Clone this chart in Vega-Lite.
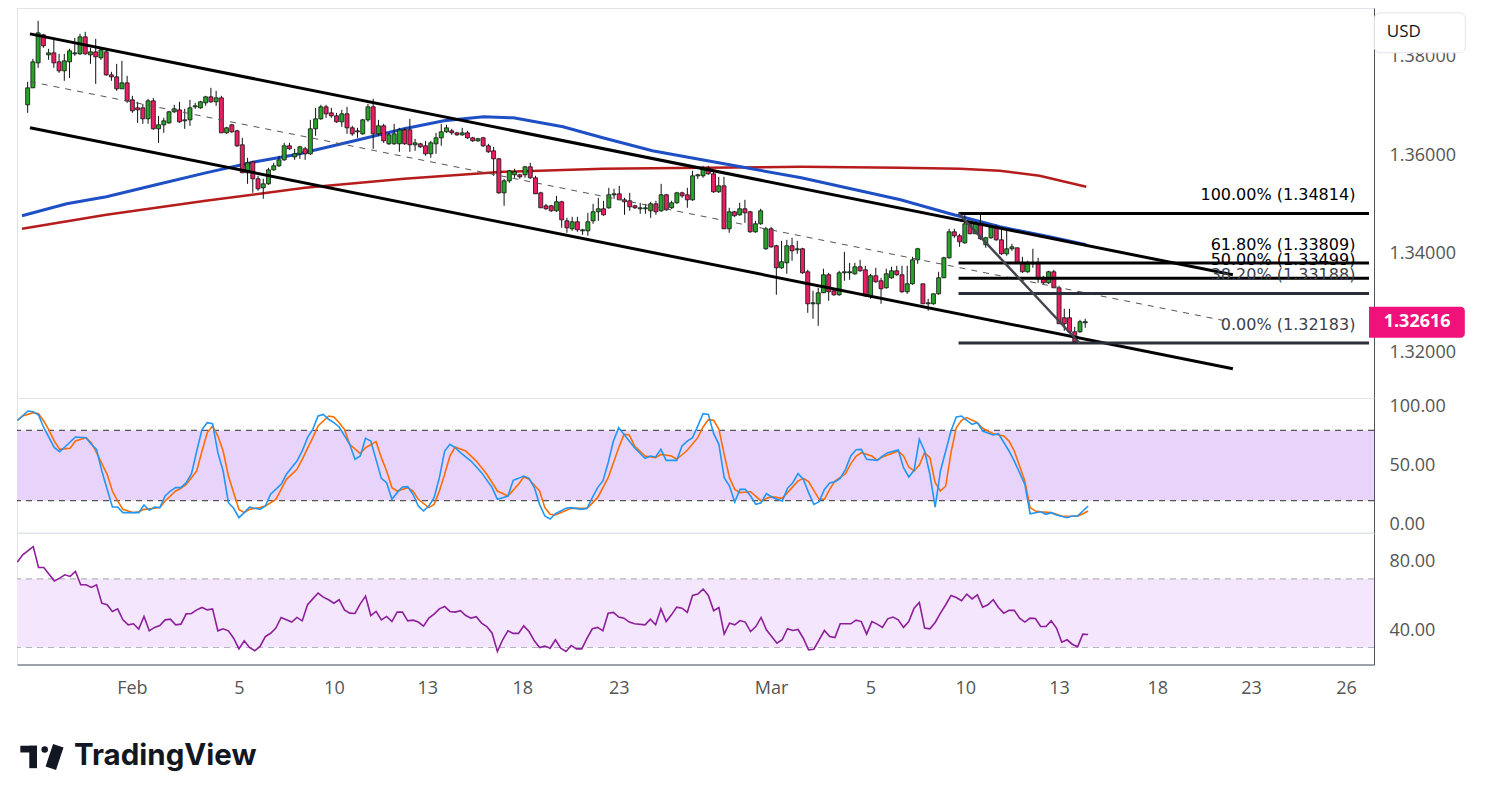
{
"$schema": "https://vega.github.io/schema/vega-lite/v6.json",
"padding": {"left": 15, "top": 7, "right": 0, "bottom": 0},
"spacing": 0,
"bounds": "flush",
"background": "white",
"config": {
  "view": {"stroke": "#e0e3eb", "strokeWidth": 1},
  "axis": {"labelFont": "Open Sans", "labelFontSize": 18, "labelColor": "#555555", "ticks": false, "grid": false, "domainColor": "#50535e", "domainWidth": 1},
  "concat": {"spacing": 0}
},
"datasets": {
"candles": [
{"n":1,"o":1.37019,"h":1.37486,"l":1.36856,"c":1.37364},
{"n":2,"o":1.37364,"h":1.37953,"l":1.37364,"c":1.37892},
{"n":3,"o":1.37871,"h":1.38724,"l":1.3777,"c":1.3848},
{"n":4,"o":1.3844,"h":1.3846,"l":1.38176,"c":1.38217},
{"n":5,"o":1.38034,"h":1.38156,"l":1.37932,"c":1.38074},
{"n":6,"o":1.38074,"h":1.38359,"l":1.3777,"c":1.37871},
{"n":7,"o":1.37892,"h":1.38054,"l":1.37668,"c":1.37709},
{"n":8,"o":1.37709,"h":1.38054,"l":1.37506,"c":1.37912},
{"n":9,"o":1.37892,"h":1.38156,"l":1.37567,"c":1.38115},
{"n":10,"o":1.38054,"h":1.38379,"l":1.38014,"c":1.38074},
{"n":11,"o":1.38054,"h":1.3846,"l":1.38034,"c":1.38399},
{"n":12,"o":1.38399,"h":1.38501,"l":1.38034,"c":1.38054},
{"n":13,"o":1.38034,"h":1.38176,"l":1.37851,"c":1.38095},
{"n":14,"o":1.38095,"h":1.38359,"l":1.37445,"c":1.37993},
{"n":15,"o":1.37973,"h":1.38176,"l":1.37932,"c":1.38135},
{"n":16,"o":1.38095,"h":1.38156,"l":1.37608,"c":1.37628},
{"n":17,"o":1.37628,"h":1.37689,"l":1.37506,"c":1.37587},
{"n":18,"o":1.37587,"h":1.37851,"l":1.37303,"c":1.37344},
{"n":19,"o":1.37344,"h":1.37912,"l":1.37344,"c":1.37465},
{"n":20,"o":1.37465,"h":1.37608,"l":1.37059,"c":1.371},
{"n":21,"o":1.3712,"h":1.37202,"l":1.36856,"c":1.36897},
{"n":22,"o":1.36958,"h":1.3708,"l":1.36653,"c":1.36917},
{"n":23,"o":1.36958,"h":1.37039,"l":1.36633,"c":1.36735},
{"n":24,"o":1.36735,"h":1.37141,"l":1.36633,"c":1.371},
{"n":25,"o":1.371,"h":1.37161,"l":1.36511,"c":1.36532},
{"n":26,"o":1.36532,"h":1.36796,"l":1.36247,"c":1.36613},
{"n":27,"o":1.36613,"h":1.36755,"l":1.3645,"c":1.36694},
{"n":28,"o":1.36653,"h":1.36897,"l":1.36633,"c":1.36877},
{"n":29,"o":1.36877,"h":1.37019,"l":1.36856,"c":1.36938},
{"n":30,"o":1.36917,"h":1.3708,"l":1.36653,"c":1.36674},
{"n":31,"o":1.36694,"h":1.36938,"l":1.36532,"c":1.36714},
{"n":32,"o":1.36714,"h":1.3712,"l":1.36593,"c":1.36958},
{"n":33,"o":1.36978,"h":1.37059,"l":1.36938,"c":1.36999},
{"n":34,"o":1.36958,"h":1.371,"l":1.36938,"c":1.3708},
{"n":35,"o":1.37059,"h":1.37202,"l":1.36999,"c":1.37181},
{"n":36,"o":1.37181,"h":1.37364,"l":1.37059,"c":1.3708},
{"n":37,"o":1.3708,"h":1.37303,"l":1.36999,"c":1.37161},
{"n":38,"o":1.37161,"h":1.37202,"l":1.3645,"c":1.3645},
{"n":39,"o":1.3645,"h":1.36572,"l":1.3643,"c":1.36552},
{"n":40,"o":1.36613,"h":1.36633,"l":1.3645,"c":1.36471},
{"n":41,"o":1.36491,"h":1.36511,"l":1.36166,"c":1.36187},
{"n":42,"o":1.36207,"h":1.36349,"l":1.35638,"c":1.35638},
{"n":43,"o":1.35638,"h":1.35943,"l":1.35415,"c":1.35841},
{"n":44,"o":1.35862,"h":1.35882,"l":1.35232,"c":1.35517},
{"n":45,"o":1.35517,"h":1.35577,"l":1.35273,"c":1.35314},
{"n":46,"o":1.35334,"h":1.35517,"l":1.35111,"c":1.35415},
{"n":47,"o":1.35415,"h":1.3574,"l":1.35395,"c":1.35699},
{"n":48,"o":1.35699,"h":1.35841,"l":1.35679,"c":1.3578},
{"n":49,"o":1.3578,"h":1.35984,"l":1.3576,"c":1.35902},
{"n":50,"o":1.35902,"h":1.36247,"l":1.35882,"c":1.36187},
{"n":51,"o":1.36187,"h":1.36247,"l":1.36105,"c":1.36126},
{"n":52,"o":1.35963,"h":1.36126,"l":1.35902,"c":1.36024},
{"n":53,"o":1.36024,"h":1.36187,"l":1.35923,"c":1.36166},
{"n":54,"o":1.36126,"h":1.36166,"l":1.35902,"c":1.36024},
{"n":55,"o":1.36024,"h":1.36714,"l":1.36004,"c":1.36532},
{"n":56,"o":1.36532,"h":1.36958,"l":1.3639,"c":1.36735},
{"n":57,"o":1.36735,"h":1.37019,"l":1.36714,"c":1.36978},
{"n":58,"o":1.36978,"h":1.37019,"l":1.36755,"c":1.36836},
{"n":59,"o":1.36856,"h":1.36958,"l":1.36755,"c":1.36796},
{"n":60,"o":1.36796,"h":1.36856,"l":1.36653,"c":1.36674},
{"n":61,"o":1.36674,"h":1.36917,"l":1.36572,"c":1.36836},
{"n":62,"o":1.36836,"h":1.36978,"l":1.3643,"c":1.36552},
{"n":63,"o":1.36552,"h":1.36593,"l":1.3639,"c":1.3643},
{"n":64,"o":1.36471,"h":1.36552,"l":1.36349,"c":1.36491},
{"n":65,"o":1.3643,"h":1.36735,"l":1.3641,"c":1.36714},
{"n":66,"o":1.36714,"h":1.37039,"l":1.36674,"c":1.36978},
{"n":67,"o":1.36978,"h":1.37141,"l":1.36126,"c":1.3643},
{"n":68,"o":1.3643,"h":1.36714,"l":1.3639,"c":1.36593},
{"n":69,"o":1.36593,"h":1.36633,"l":1.36247,"c":1.36288},
{"n":70,"o":1.36227,"h":1.3645,"l":1.36207,"c":1.3641},
{"n":71,"o":1.36227,"h":1.36633,"l":1.36207,"c":1.3643},
{"n":72,"o":1.36227,"h":1.36552,"l":1.36065,"c":1.36511},
{"n":73,"o":1.36511,"h":1.36552,"l":1.36207,"c":1.36227},
{"n":74,"o":1.36511,"h":1.36735,"l":1.36065,"c":1.36207},
{"n":75,"o":1.36207,"h":1.36329,"l":1.36085,"c":1.36247},
{"n":76,"o":1.36227,"h":1.36247,"l":1.36146,"c":1.36166},
{"n":77,"o":1.36187,"h":1.36288,"l":1.35984,"c":1.36024},
{"n":78,"o":1.36024,"h":1.36288,"l":1.35943,"c":1.36247},
{"n":79,"o":1.36227,"h":1.3645,"l":1.36024,"c":1.36349},
{"n":80,"o":1.36349,"h":1.36633,"l":1.36187,"c":1.36471},
{"n":81,"o":1.36471,"h":1.36613,"l":1.3645,"c":1.36552},
{"n":82,"o":1.36491,"h":1.36532,"l":1.3641,"c":1.3645},
{"n":83,"o":1.3645,"h":1.36471,"l":1.3639,"c":1.3641},
{"n":84,"o":1.3641,"h":1.36552,"l":1.3639,"c":1.3645},
{"n":85,"o":1.3645,"h":1.36491,"l":1.36329,"c":1.36349},
{"n":86,"o":1.36349,"h":1.36369,"l":1.36268,"c":1.36288},
{"n":87,"o":1.36288,"h":1.36349,"l":1.36268,"c":1.36329},
{"n":88,"o":1.36349,"h":1.36369,"l":1.36166,"c":1.36187},
{"n":89,"o":1.36187,"h":1.36227,"l":1.36044,"c":1.36065},
{"n":90,"o":1.36085,"h":1.36166,"l":1.35577,"c":1.35923},
{"n":91,"o":1.35923,"h":1.35943,"l":1.35212,"c":1.35232},
{"n":92,"o":1.35232,"h":1.35517,"l":1.34969,"c":1.35476},
{"n":93,"o":1.35476,"h":1.35699,"l":1.35435,"c":1.35679},
{"n":94,"o":1.35598,"h":1.3572,"l":1.35537,"c":1.35659},
{"n":95,"o":1.35598,"h":1.35618,"l":1.35517,"c":1.35557},
{"n":96,"o":1.35598,"h":1.3578,"l":1.35537,"c":1.3576},
{"n":97,"o":1.3576,"h":1.35841,"l":1.35517,"c":1.35537},
{"n":98,"o":1.35537,"h":1.35577,"l":1.35212,"c":1.35212},
{"n":99,"o":1.35232,"h":1.35253,"l":1.34928,"c":1.34928},
{"n":100,"o":1.34969,"h":1.35009,"l":1.34887,"c":1.34908},
{"n":101,"o":1.34969,"h":1.34989,"l":1.34847,"c":1.34867},
{"n":102,"o":1.34867,"h":1.35172,"l":1.34847,"c":1.3505},
{"n":103,"o":1.3505,"h":1.3507,"l":1.34522,"c":1.34684},
{"n":104,"o":1.34664,"h":1.34725,"l":1.3442,"c":1.34522},
{"n":105,"o":1.34502,"h":1.34745,"l":1.34461,"c":1.34644},
{"n":106,"o":1.34644,"h":1.34745,"l":1.34441,"c":1.34481},
{"n":107,"o":1.34461,"h":1.34502,"l":1.3438,"c":1.34481},
{"n":108,"o":1.34461,"h":1.34826,"l":1.3436,"c":1.34644},
{"n":109,"o":1.34664,"h":1.35009,"l":1.34603,"c":1.34847},
{"n":110,"o":1.34847,"h":1.35131,"l":1.34664,"c":1.34908},
{"n":111,"o":1.34908,"h":1.3507,"l":1.34766,"c":1.34786},
{"n":112,"o":1.34928,"h":1.35334,"l":1.34908,"c":1.35192},
{"n":113,"o":1.35192,"h":1.35314,"l":1.35111,"c":1.35212},
{"n":114,"o":1.35212,"h":1.35374,"l":1.3509,"c":1.3509},
{"n":115,"o":1.3509,"h":1.35131,"l":1.34786,"c":1.3505},
{"n":116,"o":1.3507,"h":1.35232,"l":1.34867,"c":1.34948},
{"n":117,"o":1.34969,"h":1.34989,"l":1.34908,"c":1.34928},
{"n":118,"o":1.34908,"h":1.35029,"l":1.34806,"c":1.34928},
{"n":119,"o":1.34908,"h":1.35009,"l":1.34806,"c":1.34928},
{"n":120,"o":1.34867,"h":1.3505,"l":1.34725,"c":1.35009},
{"n":121,"o":1.35009,"h":1.3507,"l":1.34786,"c":1.34847},
{"n":122,"o":1.34867,"h":1.35415,"l":1.34847,"c":1.35192},
{"n":123,"o":1.35192,"h":1.35212,"l":1.34867,"c":1.34887},
{"n":124,"o":1.34928,"h":1.3507,"l":1.34908,"c":1.35029},
{"n":125,"o":1.35029,"h":1.35253,"l":1.35009,"c":1.35232},
{"n":126,"o":1.35232,"h":1.35253,"l":1.35131,"c":1.35172},
{"n":127,"o":1.35192,"h":1.35334,"l":1.34928,"c":1.3509},
{"n":128,"o":1.3509,"h":1.35679,"l":1.3507,"c":1.35577},
{"n":129,"o":1.35577,"h":1.35618,"l":1.35517,"c":1.35598},
{"n":130,"o":1.35577,"h":1.3578,"l":1.35537,"c":1.3574},
{"n":131,"o":1.3574,"h":1.3578,"l":1.35598,"c":1.35618},
{"n":132,"o":1.35618,"h":1.35679,"l":1.35232,"c":1.35253},
{"n":133,"o":1.35253,"h":1.35557,"l":1.35232,"c":1.35374},
{"n":134,"o":1.35374,"h":1.35557,"l":1.34502,"c":1.34502},
{"n":135,"o":1.34502,"h":1.34928,"l":1.3442,"c":1.34847},
{"n":136,"o":1.34847,"h":1.34867,"l":1.34745,"c":1.34766},
{"n":137,"o":1.34786,"h":1.35029,"l":1.34766,"c":1.34908},
{"n":138,"o":1.34908,"h":1.3509,"l":1.34623,"c":1.34826},
{"n":139,"o":1.34847,"h":1.34867,"l":1.3442,"c":1.34441},
{"n":140,"o":1.34441,"h":1.34664,"l":1.3442,"c":1.34603},
{"n":141,"o":1.34603,"h":1.34908,"l":1.34583,"c":1.34867},
{"n":142,"o":1.34096,"h":1.34542,"l":1.34075,"c":1.34502},
{"n":143,"o":1.34502,"h":1.34542,"l":1.34116,"c":1.34136},
{"n":144,"o":1.34157,"h":1.34177,"l":1.33162,"c":1.3371},
{"n":145,"o":1.3371,"h":1.34258,"l":1.3369,"c":1.33832},
{"n":146,"o":1.33811,"h":1.34278,"l":1.33588,"c":1.34157},
{"n":147,"o":1.34157,"h":1.34319,"l":1.33852,"c":1.34055},
{"n":148,"o":1.34075,"h":1.34258,"l":1.33994,"c":1.34096},
{"n":149,"o":1.34096,"h":1.34116,"l":1.33588,"c":1.33608},
{"n":150,"o":1.33629,"h":1.33669,"l":1.32796,"c":1.32979},
{"n":151,"o":1.32979,"h":1.33243,"l":1.32675,"c":1.32999},
{"n":152,"o":1.32979,"h":1.33304,"l":1.32533,"c":1.33202},
{"n":153,"o":1.33202,"h":1.3369,"l":1.33202,"c":1.33568},
{"n":154,"o":1.33568,"h":1.33608,"l":1.3304,"c":1.33223},
{"n":155,"o":1.33243,"h":1.33284,"l":1.33142,"c":1.33162},
{"n":156,"o":1.33162,"h":1.33649,"l":1.33142,"c":1.33608},
{"n":157,"o":1.33608,"h":1.34035,"l":1.33446,"c":1.33629},
{"n":158,"o":1.33608,"h":1.33811,"l":1.33466,"c":1.33629},
{"n":159,"o":1.33588,"h":1.33811,"l":1.33568,"c":1.3373},
{"n":160,"o":1.3373,"h":1.33872,"l":1.33629,"c":1.33649},
{"n":161,"o":1.33669,"h":1.33751,"l":1.33121,"c":1.33142},
{"n":162,"o":1.33142,"h":1.33588,"l":1.33081,"c":1.33548},
{"n":163,"o":1.33548,"h":1.3371,"l":1.33405,"c":1.33426},
{"n":164,"o":1.33446,"h":1.33507,"l":1.32979,"c":1.33284},
{"n":165,"o":1.33304,"h":1.3369,"l":1.33284,"c":1.33588},
{"n":166,"o":1.33507,"h":1.3373,"l":1.33487,"c":1.33649},
{"n":167,"o":1.33649,"h":1.33751,"l":1.33548,"c":1.33568},
{"n":168,"o":1.33568,"h":1.33751,"l":1.33202,"c":1.33223},
{"n":169,"o":1.33223,"h":1.33751,"l":1.33182,"c":1.33385},
{"n":170,"o":1.33385,"h":1.33933,"l":1.33365,"c":1.33872},
{"n":171,"o":1.33872,"h":1.34116,"l":1.33791,"c":1.34096},
{"n":172,"o":1.33385,"h":1.33385,"l":1.32979,"c":1.32979},
{"n":173,"o":1.32979,"h":1.33081,"l":1.32837,"c":1.32999},
{"n":174,"o":1.32979,"h":1.33182,"l":1.32959,"c":1.33182},
{"n":175,"o":1.33182,"h":1.33629,"l":1.33162,"c":1.33507},
{"n":176,"o":1.33507,"h":1.33933,"l":1.33507,"c":1.33913},
{"n":177,"o":1.33913,"h":1.34502,"l":1.33893,"c":1.34441},
{"n":178,"o":1.34441,"h":1.34502,"l":1.34319,"c":1.3436},
{"n":179,"o":1.3436,"h":1.344,"l":1.34136,"c":1.34238},
{"n":180,"o":1.34217,"h":1.34814,"l":1.34197,"c":1.34603},
{"n":181,"o":1.34603,"h":1.34664,"l":1.344,"c":1.344},
{"n":182,"o":1.344,"h":1.34644,"l":1.344,"c":1.34603},
{"n":183,"o":1.34603,"h":1.34786,"l":1.34278,"c":1.34299},
{"n":184,"o":1.34177,"h":1.34339,"l":1.34116,"c":1.34319},
{"n":185,"o":1.34319,"h":1.34583,"l":1.34299,"c":1.34542},
{"n":186,"o":1.34542,"h":1.34583,"l":1.34258,"c":1.34278},
{"n":187,"o":1.34278,"h":1.34502,"l":1.33974,"c":1.33994},
{"n":188,"o":1.33994,"h":1.34481,"l":1.33954,"c":1.34096},
{"n":189,"o":1.34096,"h":1.34197,"l":1.34055,"c":1.34136},
{"n":190,"o":1.34116,"h":1.34116,"l":1.33791,"c":1.33811},
{"n":191,"o":1.33811,"h":1.33933,"l":1.33608,"c":1.33629},
{"n":192,"o":1.33629,"h":1.33852,"l":1.33608,"c":1.33791},
{"n":193,"o":1.33791,"h":1.34096,"l":1.3371,"c":1.33811},
{"n":194,"o":1.33791,"h":1.33913,"l":1.33405,"c":1.33487},
{"n":195,"o":1.33487,"h":1.33548,"l":1.33385,"c":1.33405},
{"n":196,"o":1.33405,"h":1.33649,"l":1.33385,"c":1.33629},
{"n":197,"o":1.33629,"h":1.33669,"l":1.33304,"c":1.33304},
{"n":198,"o":1.33304,"h":1.33345,"l":1.32573,"c":1.32573},
{"n":199,"o":1.32695,"h":1.32878,"l":1.32431,"c":1.32573},
{"n":200,"o":1.32695,"h":1.32878,"l":1.3239,"c":1.32411},
{"n":201,"o":1.32411,"h":1.32512,"l":1.32183,"c":1.32208},
{"n":202,"o":1.32411,"h":1.32654,"l":1.3239,"c":1.32614},
{"n":203,"o":1.32593,"h":1.32675,"l":1.32492,"c":1.32616}
],
"ma50": [
{"n":-0.08,"p":1.34766},{"n":8.45,"p":1.35009},{"n":16.04,"p":1.35151},{"n":25.52,"p":1.35395},{"n":35.0,"p":1.35638},{"n":44.48,"p":1.35862},{"n":52.06,"p":1.36004},{"n":63.44,"p":1.36288},{"n":72.92,"p":1.36532},{"n":80.5,"p":1.36694},{"n":88.09,"p":1.36775},{"n":93.77,"p":1.36755},{"n":103.25,"p":1.36572},{"n":110.84,"p":1.36349},{"n":120.32,"p":1.36085},{"n":129.8,"p":1.35902},{"n":139.28,"p":1.3572},{"n":148.76,"p":1.35537},{"n":158.24,"p":1.35314},{"n":167.72,"p":1.3509},{"n":177.2,"p":1.34806},{"n":186.69,"p":1.34542},{"n":196.17,"p":1.34339},{"n":203.19,"p":1.34177}
],
"ma200": [
{"n":-0.08,"p":1.34502},{"n":16.04,"p":1.34786},{"n":35.0,"p":1.3507},{"n":53.96,"p":1.35334},{"n":72.92,"p":1.35517},{"n":91.88,"p":1.35659},{"n":110.84,"p":1.3572},{"n":129.8,"p":1.3574},{"n":148.76,"p":1.3576},{"n":167.72,"p":1.3574},{"n":179.1,"p":1.3572},{"n":186.69,"p":1.35679},{"n":194.27,"p":1.35577},{"n":203.19,"p":1.35354}
],
"channel": [
{"line":"upper","n":1.44,"p":1.3846},{"line":"upper","n":231.2,"p":1.33568},
{"line":"lower","n":1.44,"p":1.36552},{"line":"lower","n":231.2,"p":1.3166}
],
"mid": [{"n":1.44,"p":1.3749},{"n":229.7,"p":1.32634}],
"diag": [{"n":178.8,"p":1.34814},{"n":201.9,"p":1.32183}],
"fib": [
{"label":"100.00% (1.34814)","p":1.34814},
{"label":"61.80% (1.33809)","p":1.33809},
{"label":"50.00% (1.33499)","p":1.33499},
{"label":"38.20% (1.33188)","p":1.33188},
{"label":"0.00% (1.32183)","p":1.32183}
],
"stochK": [
{"n":0,"v":88.6},{"n":2,"v":96.6},{"n":3,"v":96.0},{"n":4,"v":93.2},{"n":5,"v":82.3},{"n":7,"v":65.2},{"n":8,"v":61.8},{"n":9,"v":65.8},{"n":11,"v":74.4},{"n":13,"v":73.8},{"n":14,"v":68.1},{"n":15,"v":63.8},{"n":16,"v":45.3},{"n":18,"v":14.5},{"n":19,"v":14.5},{"n":20,"v":9.7},{"n":23,"v":9.7},{"n":24,"v":16.2},{"n":25,"v":11.7},{"n":26,"v":14.5},{"n":27,"v":14.0},{"n":28,"v":23.9},{"n":29,"v":28.2},{"n":30,"v":31.1},{"n":31,"v":31.1},{"n":32,"v":35.3},{"n":33,"v":43.0},{"n":34,"v":62.4},{"n":35,"v":80.9},{"n":36,"v":86.6},{"n":37,"v":85.8},{"n":38,"v":61.0},{"n":39,"v":45.3},{"n":40,"v":18.2},{"n":41,"v":13.4},{"n":42,"v":5.4},{"n":43,"v":9.7},{"n":44,"v":14.5},{"n":46,"v":12.5},{"n":47,"v":15.4},{"n":48,"v":25.4},{"n":50,"v":33.9},{"n":51,"v":42.5},{"n":53,"v":53.8},{"n":54,"v":62.4},{"n":55,"v":73.8},{"n":56,"v":80.9},{"n":57,"v":92.3},{"n":58,"v":93.7},{"n":59,"v":89.5},{"n":60,"v":86.6},{"n":61,"v":82.9},{"n":63,"v":68.1},{"n":64,"v":55.3},{"n":65,"v":58.1},{"n":66,"v":73.2},{"n":67,"v":70.9},{"n":69,"v":39.0},{"n":70,"v":35.3},{"n":71,"v":21.1},{"n":72,"v":26.8},{"n":73,"v":31.6},{"n":74,"v":31.9},{"n":75,"v":25.4},{"n":76,"v":15.4},{"n":77,"v":11.1},{"n":78,"v":15.4},{"n":79,"v":22.5},{"n":80,"v":39.6},{"n":81,"v":62.4},{"n":82,"v":68.1},{"n":83,"v":65.2},{"n":84,"v":61.0},{"n":86,"v":53.8},{"n":88,"v":43.9},{"n":90,"v":31.1},{"n":91,"v":21.1},{"n":92,"v":22.5},{"n":93,"v":23.9},{"n":94,"v":37.3},{"n":95,"v":39.0},{"n":96,"v":41.0},{"n":97,"v":39.0},{"n":98,"v":31.1},{"n":99,"v":16.8},{"n":100,"v":6.8},{"n":101,"v":4.3},{"n":102,"v":8.8},{"n":104,"v":13.4},{"n":105,"v":14.0},{"n":107,"v":12.5},{"n":108,"v":13.4},{"n":109,"v":22.5},{"n":110,"v":31.1},{"n":111,"v":36.8},{"n":112,"v":52.4},{"n":113,"v":70.9},{"n":114,"v":82.3},{"n":115,"v":76.6},{"n":117,"v":65.2},{"n":119,"v":56.1},{"n":120,"v":58.1},{"n":121,"v":57.3},{"n":122,"v":63.8},{"n":123,"v":54.4},{"n":125,"v":54.4},{"n":126,"v":66.7},{"n":127,"v":70.9},{"n":128,"v":73.8},{"n":129,"v":83.8},{"n":130,"v":94.3},{"n":131,"v":93.7},{"n":132,"v":77.2},{"n":133,"v":68.1},{"n":134,"v":39.6},{"n":135,"v":32.5},{"n":136,"v":18.8},{"n":137,"v":29.6},{"n":138,"v":29.6},{"n":139,"v":23.9},{"n":140,"v":16.8},{"n":141,"v":18.2},{"n":142,"v":25.9},{"n":143,"v":23.1},{"n":144,"v":21.1},{"n":145,"v":19.7},{"n":146,"v":30.5},{"n":147,"v":35.3},{"n":148,"v":43.0},{"n":149,"v":38.2},{"n":150,"v":26.8},{"n":151,"v":16.8},{"n":152,"v":19.1},{"n":153,"v":29.6},{"n":154,"v":35.0},{"n":155,"v":36.2},{"n":156,"v":39.0},{"n":157,"v":46.7},{"n":158,"v":58.1},{"n":159,"v":63.5},{"n":160,"v":63.8},{"n":161,"v":55.3},{"n":163,"v":54.4},{"n":164,"v":58.1},{"n":165,"v":61.0},{"n":167,"v":63.2},{"n":168,"v":48.1},{"n":169,"v":40.2},{"n":170,"v":45.9},{"n":171,"v":72.4},{"n":172,"v":62.4},{"n":173,"v":42.5},{"n":174,"v":14.5},{"n":175,"v":45.3},{"n":177,"v":79.5},{"n":178,"v":91.5},{"n":179,"v":92.3},{"n":180,"v":88.6},{"n":181,"v":85.2},{"n":182,"v":86.6},{"n":183,"v":79.5},{"n":185,"v":76.1},{"n":186,"v":77.2},{"n":188,"v":62.4},{"n":189,"v":53.8},{"n":191,"v":33.9},{"n":192,"v":8.8},{"n":194,"v":10.5},{"n":195,"v":8.3},{"n":196,"v":9.7},{"n":197,"v":7.7},{"n":199,"v":5.4},{"n":200,"v":6.8},{"n":201,"v":6.8},{"n":202,"v":11.1},{"n":203,"v":15.4}
],
"stochD": [
{"n":0,"v":88.6},{"n":1,"v":92.3},{"n":3,"v":95.2},{"n":4,"v":94.3},{"n":5,"v":88.0},{"n":6,"v":80.1},{"n":7,"v":70.9},{"n":8,"v":63.8},{"n":10,"v":64.7},{"n":11,"v":70.9},{"n":13,"v":73.8},{"n":14,"v":69.5},{"n":15,"v":61.0},{"n":17,"v":42.5},{"n":18,"v":28.2},{"n":19,"v":19.7},{"n":20,"v":12.5},{"n":22,"v":9.7},{"n":23,"v":10.5},{"n":24,"v":12.5},{"n":26,"v":13.4},{"n":27,"v":14.0},{"n":28,"v":19.7},{"n":30,"v":28.2},{"n":31,"v":30.5},{"n":32,"v":33.9},{"n":34,"v":45.3},{"n":35,"v":62.4},{"n":36,"v":78.1},{"n":37,"v":83.8},{"n":38,"v":75.2},{"n":39,"v":62.4},{"n":40,"v":41.0},{"n":42,"v":12.5},{"n":43,"v":9.7},{"n":44,"v":12.5},{"n":46,"v":14.0},{"n":47,"v":15.4},{"n":49,"v":21.1},{"n":50,"v":29.6},{"n":51,"v":38.2},{"n":53,"v":46.7},{"n":54,"v":55.3},{"n":55,"v":64.7},{"n":56,"v":73.8},{"n":57,"v":83.8},{"n":59,"v":92.3},{"n":60,"v":91.5},{"n":61,"v":86.6},{"n":62,"v":80.9},{"n":63,"v":68.1},{"n":65,"v":60.1},{"n":66,"v":65.2},{"n":68,"v":70.4},{"n":69,"v":56.7},{"n":70,"v":45.3},{"n":71,"v":31.1},{"n":72,"v":28.2},{"n":74,"v":31.1},{"n":75,"v":28.2},{"n":76,"v":21.1},{"n":78,"v":14.0},{"n":79,"v":16.8},{"n":80,"v":28.2},{"n":81,"v":42.5},{"n":82,"v":58.1},{"n":83,"v":65.8},{"n":85,"v":62.4},{"n":87,"v":53.8},{"n":89,"v":42.5},{"n":91,"v":28.2},{"n":93,"v":23.9},{"n":95,"v":33.9},{"n":96,"v":40.2},{"n":97,"v":38.2},{"n":99,"v":28.2},{"n":100,"v":14.0},{"n":101,"v":8.3},{"n":102,"v":7.7},{"n":105,"v":13.4},{"n":108,"v":13.4},{"n":110,"v":22.5},{"n":112,"v":39.6},{"n":114,"v":65.2},{"n":115,"v":76.6},{"n":116,"v":76.1},{"n":117,"v":66.7},{"n":119,"v":58.1},{"n":121,"v":56.7},{"n":122,"v":59.5},{"n":124,"v":58.1},{"n":125,"v":55.3},{"n":127,"v":63.0},{"n":129,"v":73.8},{"n":130,"v":82.9},{"n":131,"v":89.2},{"n":132,"v":88.6},{"n":133,"v":80.9},{"n":134,"v":59.5},{"n":135,"v":39.6},{"n":136,"v":29.6},{"n":137,"v":26.8},{"n":139,"v":27.6},{"n":141,"v":19.7},{"n":142,"v":21.9},{"n":143,"v":23.4},{"n":145,"v":21.9},{"n":146,"v":26.8},{"n":148,"v":36.8},{"n":149,"v":39.0},{"n":150,"v":36.2},{"n":152,"v":21.1},{"n":153,"v":21.1},{"n":154,"v":29.6},{"n":155,"v":36.8},{"n":157,"v":43.0},{"n":158,"v":51.6},{"n":159,"v":57.8},{"n":160,"v":61.0},{"n":162,"v":58.1},{"n":163,"v":54.4},{"n":164,"v":57.3},{"n":167,"v":62.4},{"n":168,"v":58.1},{"n":169,"v":48.7},{"n":170,"v":45.3},{"n":171,"v":50.4},{"n":172,"v":61.0},{"n":173,"v":56.7},{"n":174,"v":35.3},{"n":175,"v":28.2},{"n":176,"v":32.5},{"n":177,"v":61.0},{"n":178,"v":82.3},{"n":179,"v":88.6},{"n":180,"v":90.9},{"n":182,"v":86.6},{"n":183,"v":81.8},{"n":185,"v":77.2},{"n":187,"v":75.2},{"n":188,"v":70.9},{"n":189,"v":62.4},{"n":191,"v":36.8},{"n":192,"v":14.0},{"n":193,"v":11.1},{"n":194,"v":10.5},{"n":196,"v":9.7},{"n":198,"v":6.8},{"n":201,"v":6.6},{"n":202,"v":8.8},{"n":203,"v":11.1}
],
"rsi": [
{"n":0,"v":79.7},{"n":1,"v":84.0},{"n":3,"v":88.8},{"n":4,"v":76.6},{"n":5,"v":76.6},{"n":6,"v":72.7},{"n":7,"v":68.8},{"n":8,"v":70.4},{"n":9,"v":72.3},{"n":10,"v":71.4},{"n":11,"v":74.3},{"n":12,"v":66.5},{"n":13,"v":66.5},{"n":14,"v":65.0},{"n":15,"v":66.5},{"n":16,"v":55.8},{"n":17,"v":54.9},{"n":18,"v":51.0},{"n":19,"v":52.5},{"n":20,"v":46.1},{"n":21,"v":43.2},{"n":22,"v":43.8},{"n":23,"v":40.7},{"n":24,"v":48.1},{"n":25,"v":39.7},{"n":26,"v":41.7},{"n":27,"v":42.8},{"n":28,"v":46.1},{"n":29,"v":46.5},{"n":30,"v":43.2},{"n":31,"v":43.6},{"n":32,"v":49.6},{"n":33,"v":49.8},{"n":34,"v":51.9},{"n":35,"v":53.3},{"n":36,"v":51.9},{"n":37,"v":52.5},{"n":38,"v":39.7},{"n":39,"v":40.9},{"n":40,"v":39.7},{"n":41,"v":35.4},{"n":42,"v":29.2},{"n":43,"v":33.9},{"n":44,"v":30.0},{"n":45,"v":28.1},{"n":46,"v":30.6},{"n":47,"v":36.4},{"n":48,"v":38.3},{"n":49,"v":41.3},{"n":50,"v":47.5},{"n":51,"v":46.1},{"n":52,"v":44.8},{"n":53,"v":47.5},{"n":54,"v":45.5},{"n":55,"v":54.9},{"n":56,"v":58.3},{"n":57,"v":61.7},{"n":58,"v":59.3},{"n":59,"v":57.8},{"n":60,"v":55.8},{"n":61,"v":57.8},{"n":62,"v":51.9},{"n":63,"v":50.0},{"n":64,"v":49.8},{"n":65,"v":55.4},{"n":66,"v":59.9},{"n":67,"v":48.6},{"n":68,"v":51.0},{"n":69,"v":46.1},{"n":70,"v":48.1},{"n":71,"v":45.1},{"n":72,"v":50.6},{"n":73,"v":50.6},{"n":74,"v":45.5},{"n":75,"v":45.9},{"n":76,"v":44.8},{"n":77,"v":42.4},{"n":78,"v":47.1},{"n":79,"v":49.4},{"n":80,"v":52.5},{"n":81,"v":53.9},{"n":82,"v":51.0},{"n":83,"v":50.6},{"n":84,"v":51.4},{"n":85,"v":48.6},{"n":86,"v":47.1},{"n":87,"v":47.9},{"n":88,"v":44.2},{"n":89,"v":42.2},{"n":90,"v":38.3},{"n":91,"v":27.7},{"n":92,"v":34.5},{"n":93,"v":39.7},{"n":94,"v":38.2},{"n":95,"v":38.2},{"n":96,"v":42.6},{"n":97,"v":39.3},{"n":98,"v":33.9},{"n":99,"v":30.0},{"n":100,"v":30.8},{"n":101,"v":29.6},{"n":102,"v":34.5},{"n":103,"v":29.6},{"n":104,"v":27.7},{"n":105,"v":31.2},{"n":106,"v":29.2},{"n":107,"v":29.2},{"n":108,"v":35.4},{"n":109,"v":40.9},{"n":110,"v":41.7},{"n":111,"v":39.7},{"n":112,"v":50.0},{"n":113,"v":50.4},{"n":114,"v":47.7},{"n":115,"v":47.1},{"n":116,"v":44.8},{"n":117,"v":43.8},{"n":119,"v":43.2},{"n":120,"v":46.5},{"n":121,"v":43.2},{"n":122,"v":52.5},{"n":123,"v":45.1},{"n":124,"v":49.0},{"n":125,"v":53.5},{"n":126,"v":52.9},{"n":127,"v":50.4},{"n":128,"v":60.3},{"n":129,"v":61.1},{"n":130,"v":64.0},{"n":131,"v":60.3},{"n":132,"v":51.4},{"n":133,"v":53.3},{"n":134,"v":37.8},{"n":135,"v":44.2},{"n":136,"v":43.2},{"n":137,"v":45.7},{"n":138,"v":44.8},{"n":139,"v":39.3},{"n":140,"v":42.2},{"n":141,"v":47.5},{"n":142,"v":40.3},{"n":143,"v":36.4},{"n":144,"v":32.5},{"n":145,"v":34.5},{"n":146,"v":40.9},{"n":147,"v":39.9},{"n":148,"v":40.5},{"n":149,"v":35.4},{"n":150,"v":28.6},{"n":151,"v":29.0},{"n":152,"v":34.5},{"n":153,"v":39.9},{"n":154,"v":36.4},{"n":155,"v":35.8},{"n":156,"v":43.8},{"n":157,"v":43.8},{"n":158,"v":43.8},{"n":159,"v":45.9},{"n":160,"v":45.1},{"n":161,"v":37.8},{"n":162,"v":45.1},{"n":163,"v":43.6},{"n":164,"v":41.7},{"n":165,"v":46.7},{"n":166,"v":47.7},{"n":167,"v":46.1},{"n":168,"v":41.7},{"n":169,"v":45.1},{"n":170,"v":52.9},{"n":171,"v":56.2},{"n":172,"v":41.3},{"n":173,"v":40.9},{"n":174,"v":44.6},{"n":175,"v":50.0},{"n":176,"v":54.9},{"n":177,"v":60.3},{"n":178,"v":59.1},{"n":179,"v":57.2},{"n":180,"v":61.1},{"n":181,"v":58.3},{"n":182,"v":60.7},{"n":183,"v":53.5},{"n":184,"v":54.9},{"n":185,"v":57.8},{"n":186,"v":53.3},{"n":187,"v":50.0},{"n":188,"v":51.6},{"n":189,"v":51.6},{"n":190,"v":47.1},{"n":191,"v":44.8},{"n":192,"v":47.1},{"n":193,"v":46.9},{"n":194,"v":42.2},{"n":195,"v":42.2},{"n":196,"v":45.5},{"n":197,"v":41.3},{"n":198,"v":33.1},{"n":199,"v":34.5},{"n":200,"v":31.9},{"n":201,"v":30.4},{"n":202,"v":37.8},{"n":203,"v":37.6}
]
},
"vconcat": [
{
"width": 1357, "height": 390,
"layer": [
{"data": {"name": "ma200"}, "mark": {"type": "line", "color": "#b71c1c", "strokeWidth": 2.5, "clip": true},
 "encoding": {
  "x": {"field": "n", "type": "quantitative", "scale": {"domain": [-0.08, 257.2], "nice": false, "zero": false}, "axis": null, "title": null},
  "y": {"field": "p", "type": "quantitative", "scale": {"domain": [1.31066, 1.38985], "nice": false, "zero": false}, "title": null,
        "axis": {"orient": "right", "values": [1.32, 1.34, 1.36, 1.38], "format": ".5f", "labelAlign": "left", "labelPadding": 15, "zindex": 0, "title": null}}}},
{"data": {"name": "ma50"}, "mark": {"type": "line", "color": "#1f4fc4", "strokeWidth": 3, "clip": true},
 "encoding": {
  "x": {"field": "n", "type": "quantitative", "scale": {"domain": [-0.08, 257.2], "nice": false, "zero": false}, "axis": null, "title": null},
  "y": {"field": "p", "type": "quantitative", "scale": {"domain": [1.31066, 1.38985], "nice": false, "zero": false}, "title": null}}},
{"data": {"name": "candles"}, "mark": {"type": "rule", "color": "#111111", "strokeWidth": 1, "clip": true},
 "encoding": {
  "x": {"field": "n", "type": "quantitative", "scale": {"domain": [-0.08, 257.2], "nice": false, "zero": false}, "axis": null, "title": null},
  "y": {"field": "l", "type": "quantitative", "scale": {"domain": [1.31066, 1.38985], "nice": false, "zero": false}, "title": null},
  "y2": {"field": "h"}}},
{"data": {"name": "candles"}, "mark": {"type": "bar", "size": 4, "stroke": "#111111", "strokeWidth": 0.8, "clip": true},
 "encoding": {
  "x": {"field": "n", "type": "quantitative", "scale": {"domain": [-0.08, 257.2], "nice": false, "zero": false}, "axis": null, "title": null},
  "y": {"field": "o", "type": "quantitative", "scale": {"domain": [1.31066, 1.38985], "nice": false, "zero": false}, "title": null},
  "y2": {"field": "c"},
  "fill": {"condition": {"test": "datum.c >= datum.o", "value": "#27a327"}, "value": "#e91e63"}}},
{"data": {"name": "channel"}, "mark": {"type": "line", "color": "#000000", "strokeWidth": 3, "clip": true},
 "encoding": {
  "x": {"field": "n", "type": "quantitative", "scale": {"domain": [-0.08, 257.2], "nice": false, "zero": false}, "axis": null, "title": null},
  "y": {"field": "p", "type": "quantitative", "scale": {"domain": [1.31066, 1.38985], "nice": false, "zero": false}, "title": null},
  "detail": {"field": "line"}}},
{"data": {"name": "mid"}, "mark": {"type": "line", "color": "#555555", "strokeWidth": 1, "strokeDash": [6, 6], "clip": true},
 "encoding": {
  "x": {"field": "n", "type": "quantitative", "scale": {"domain": [-0.08, 257.2], "nice": false, "zero": false}, "axis": null, "title": null},
  "y": {"field": "p", "type": "quantitative", "scale": {"domain": [1.31066, 1.38985], "nice": false, "zero": false}, "title": null}}},
{"data": {"name": "fib"}, "mark": {"type": "rule", "strokeWidth": 3, "clip": true},
 "encoding": {
  "x": {"datum": 178.8, "type": "quantitative", "scale": {"domain": [-0.08, 257.2], "nice": false, "zero": false}, "axis": null, "title": null},
  "x2": {"datum": 257.2},
  "y": {"field": "p", "type": "quantitative", "scale": {"domain": [1.31066, 1.38985], "nice": false, "zero": false}, "title": null},
  "color": {"condition": {"test": "datum.p > 1.3345", "value": "#000000"}, "value": "#2a2e39"}}},
{"data": {"name": "diag"}, "mark": {"type": "line", "color": "#434651", "strokeWidth": 2.5, "clip": true},
 "encoding": {
  "x": {"field": "n", "type": "quantitative", "scale": {"domain": [-0.08, 257.2], "nice": false, "zero": false}, "axis": null, "title": null},
  "y": {"field": "p", "type": "quantitative", "scale": {"domain": [1.31066, 1.38985], "nice": false, "zero": false}, "title": null}}},
{"data": {"name": "fib"}, "mark": {"type": "text", "align": "right", "baseline": "middle", "dy": -18, "font": "DejaVu Sans", "fontSize": 16, "clip": false},
 "encoding": {
  "x": {"datum": 254.6, "type": "quantitative", "scale": {"domain": [-0.08, 257.2], "nice": false, "zero": false}, "axis": null, "title": null},
  "y": {"field": "p", "type": "quantitative", "scale": {"domain": [1.31066, 1.38985], "nice": false, "zero": false}, "title": null},
  "text": {"field": "label"},
  "color": {"condition": {"test": "datum.p > 1.3345", "value": "#000000"}, "value": "#3b3f4a"}}},
{"data": {"values": [{"ccy": "USD"}]}, "mark": {"type": "rect", "fill": "#ffffff", "stroke": "#e0e3eb", "strokeWidth": 1, "cornerRadius": 6, "clip": false},
 "encoding": {
  "x": {"datum": 258.2, "type": "quantitative", "scale": {"domain": [-0.08, 257.2], "nice": false, "zero": false}, "axis": null, "title": null},
  "x2": {"datum": 275.6},
  "y": {"datum": 1.38886, "type": "quantitative", "scale": {"domain": [1.31066, 1.38985], "nice": false, "zero": false}, "title": null},
  "y2": {"datum": 1.38075}}},
{"data": {"values": [{"ccy": "USD"}]}, "mark": {"type": "text", "align": "left", "baseline": "middle", "font": "Open Sans", "fontSize": 17, "color": "#131722", "clip": false},
 "encoding": {
  "x": {"datum": 260.6, "type": "quantitative", "scale": {"domain": [-0.08, 257.2], "nice": false, "zero": false}, "axis": null, "title": null},
  "y": {"datum": 1.38501, "type": "quantitative", "scale": {"domain": [1.31066, 1.38985], "nice": false, "zero": false}, "title": null},
  "text": {"field": "ccy"}}},
{"data": {"values": [{"last": 1.32616}]}, "mark": {"type": "rect", "fill": "#f0127a", "cornerRadiusTopRight": 4, "cornerRadiusBottomRight": 4, "clip": false},
 "encoding": {
  "x": {"datum": 257.2, "type": "quantitative", "scale": {"domain": [-0.08, 257.2], "nice": false, "zero": false}, "axis": null, "title": null},
  "x2": {"datum": 275.5},
  "y": {"datum": 1.32918, "type": "quantitative", "scale": {"domain": [1.31066, 1.38985], "nice": false, "zero": false}, "title": null},
  "y2": {"datum": 1.32289}}},
{"data": {"values": [{"last": 1.32616}]}, "mark": {"type": "text", "align": "left", "baseline": "middle", "font": "Open Sans", "fontSize": 18, "fontWeight": "bold", "color": "#ffffff", "clip": false},
 "encoding": {
  "x": {"datum": 260.0, "type": "quantitative", "scale": {"domain": [-0.08, 257.2], "nice": false, "zero": false}, "axis": null, "title": null},
  "y": {"field": "last", "type": "quantitative", "scale": {"domain": [1.31066, 1.38985], "nice": false, "zero": false}, "title": null},
  "text": {"field": "last", "format": ".5f"}}}
]
},
{
"width": 1357, "height": 134.5,
"layer": [
{"data": {"values": [{}]}, "mark": {"type": "rect", "color": "#e8d4fb"},
 "encoding": {
  "y": {"datum": 80, "type": "quantitative", "scale": {"domain": [-7.26, 107.69], "nice": false, "zero": false}, "title": null,
        "axis": {"orient": "right", "values": [0, 50, 100], "format": ".2f", "labelAlign": "left", "labelPadding": 15, "zindex": 0, "title": null}},
  "y2": {"datum": 20}}},
{"data": {"values": [{"lv": 80}, {"lv": 20}]}, "mark": {"type": "rule", "color": "#555555", "strokeWidth": 1.2, "strokeDash": [6, 5]},
 "encoding": {
  "y": {"field": "lv", "type": "quantitative", "scale": {"domain": [-7.26, 107.69], "nice": false, "zero": false}, "title": null}}},
{"data": {"name": "stochD"}, "mark": {"type": "line", "color": "#ff6d00", "strokeWidth": 1.6, "clip": true},
 "encoding": {
  "x": {"field": "n", "type": "quantitative", "scale": {"domain": [-0.08, 257.2], "nice": false, "zero": false}, "axis": null, "title": null},
  "y": {"field": "v", "type": "quantitative", "scale": {"domain": [-7.26, 107.69], "nice": false, "zero": false}, "title": null}}},
{"data": {"name": "stochK"}, "mark": {"type": "line", "color": "#2196f3", "strokeWidth": 1.6, "clip": true},
 "encoding": {
  "x": {"field": "n", "type": "quantitative", "scale": {"domain": [-0.08, 257.2], "nice": false, "zero": false}, "axis": null, "title": null},
  "y": {"field": "v", "type": "quantitative", "scale": {"domain": [-7.26, 107.69], "nice": false, "zero": false}, "title": null}}}
]
},
{
"width": 1357, "height": 131.5,
"layer": [
{"data": {"values": [{}]}, "mark": {"type": "rect", "color": "#f3e6fd"},
 "encoding": {
  "y": {"datum": 70, "type": "quantitative", "scale": {"domain": [20.1, 96.67], "nice": false, "zero": false}, "title": null,
        "axis": {"orient": "right", "values": [40, 80], "format": ".2f", "labelAlign": "left", "labelPadding": 15, "zindex": 0, "title": null}},
  "y2": {"datum": 30}}},
{"data": {"values": [{"lv": 70}, {"lv": 30}]}, "mark": {"type": "rule", "color": "#b2b5be", "strokeWidth": 1.2, "strokeDash": [6, 5]},
 "encoding": {
  "y": {"field": "lv", "type": "quantitative", "scale": {"domain": [20.1, 96.67], "nice": false, "zero": false}, "title": null}}},
{"data": {"name": "rsi"}, "mark": {"type": "line", "color": "#8e1f9b", "strokeWidth": 1.6, "clip": true},
 "encoding": {
  "x": {"field": "n", "type": "quantitative", "scale": {"domain": [-0.08, 257.2], "nice": false, "zero": false}, "title": null,
        "axis": {"orient": "bottom", "values": [21.7, 42, 60, 77.7, 95.7, 114, 142.9, 161.7, 179.7, 197.5, 216.1, 233.9, 251.9],
                 "labelExpr": "['Feb','5','10','13','18','23','Mar','5','10','13','18','23','26'][indexof([21.7, 42, 60, 77.7, 95.7, 114, 142.9, 161.7, 179.7, 197.5, 216.1, 233.9, 251.9], datum.value)]",
                 "labelPadding": 15, "labelFlush": false, "labelOverlap": false, "title": null}},
  "y": {"field": "v", "type": "quantitative", "scale": {"domain": [20.1, 96.67], "nice": false, "zero": false}, "title": null}}},
{"data": {"values": [{"part": "bar"}]}, "mark": {"type": "rect", "color": "#131722", "clip": false},
 "encoding": {
  "x": {"datum": 0.55, "type": "quantitative", "scale": {"domain": [-0.08, 257.2], "nice": false, "zero": false}, "title": null},
  "x2": {"datum": 3.71},
  "y": {"datum": -27.2, "type": "quantitative", "scale": {"domain": [20.1, 96.67], "nice": false, "zero": false}, "title": null},
  "y2": {"datum": -31.13}}},
{"data": {"values": [{"part": "stem"}]}, "mark": {"type": "rect", "color": "#131722", "clip": false},
 "encoding": {
  "x": {"datum": 2.25, "type": "quantitative", "scale": {"domain": [-0.08, 257.2], "nice": false, "zero": false}, "title": null},
  "x2": {"datum": 3.71},
  "y": {"datum": -27.2, "type": "quantitative", "scale": {"domain": [20.1, 96.67], "nice": false, "zero": false}, "title": null},
  "y2": {"datum": -40.27}}},
{"data": {"values": [{"part": "dot"}]}, "mark": {"type": "circle", "size": 42, "opacity": 1, "color": "#131722", "clip": false},
 "encoding": {
  "x": {"datum": 5.17, "type": "quantitative", "scale": {"domain": [-0.08, 257.2], "nice": false, "zero": false}, "title": null},
  "y": {"datum": -29.39, "type": "quantitative", "scale": {"domain": [20.1, 96.67], "nice": false, "zero": false}, "title": null}}},
{"data": {"values": [{"part": "slash"}]}, "mark": {"type": "rule", "color": "#131722", "strokeWidth": 11, "strokeCap": "butt", "clip": false},
 "encoding": {
  "x": {"datum": 7.75, "type": "quantitative", "scale": {"domain": [-0.08, 257.2], "nice": false, "zero": false}, "title": null},
  "x2": {"datum": 6.33},
  "y": {"datum": -27.2, "type": "quantitative", "scale": {"domain": [20.1, 96.67], "nice": false, "zero": false}, "title": null},
  "y2": {"datum": -40.27}}},
{"data": {"values": [{"brand": "TradingView"}]}, "mark": {"type": "text", "align": "left", "baseline": "middle", "font": "Inter", "fontSize": 29.5, "fontWeight": 700, "color": "#131722", "clip": false},
 "encoding": {
  "x": {"datum": 10.72, "type": "quantitative", "scale": {"domain": [-0.08, 257.2], "nice": false, "zero": false}, "title": null},
  "y": {"datum": -33.46, "type": "quantitative", "scale": {"domain": [20.1, 96.67], "nice": false, "zero": false}, "title": null},
  "text": {"field": "brand"}}}
]
}
]
}
